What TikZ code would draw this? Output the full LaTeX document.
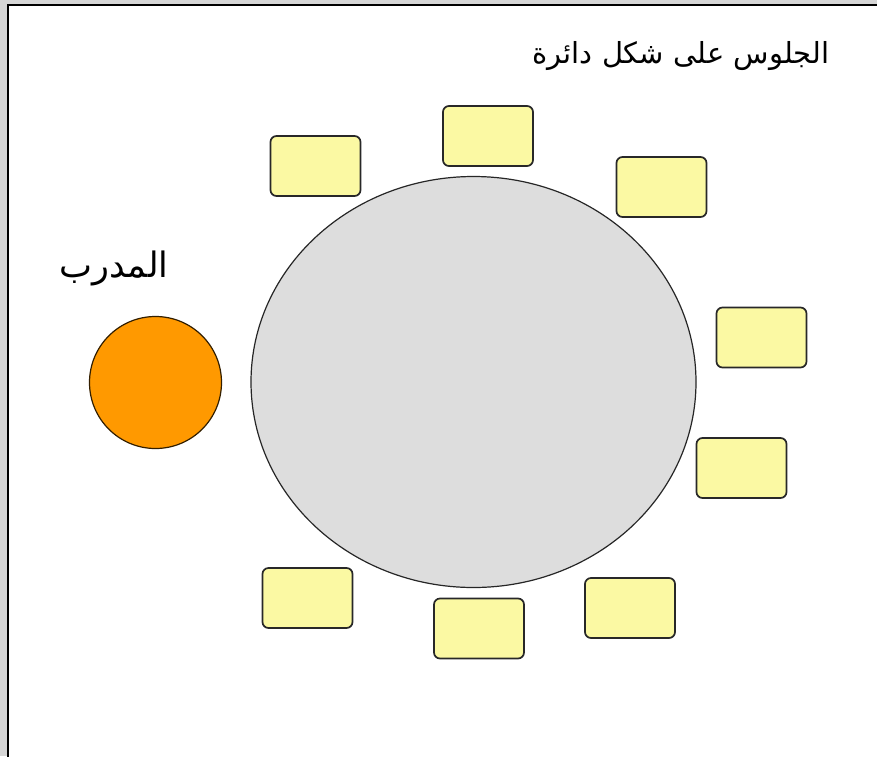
\documentclass[tikz,border=0pt]{standalone}
\usepackage{fontspec}
\usepackage{xcolor}
\usepackage{tikz}
\usetikzlibrary{shapes.geometric,positioning}
\TeXXeTstate=1
\newfontfamily\arabicfont[Script=Arabic]{DejaVu Sans}
\definecolor{seatFill}{RGB}{251,249,163}
\definecolor{tableFill}{RGB}{221,221,221}
\definecolor{trainerFill}{RGB}{255,153,0}
\definecolor{pageGray}{RGB}{214,214,214}
\definecolor{seatLine}{RGB}{40,40,40}
\tikzset{
  seatbox/.style={rectangle, draw=seatLine, fill=seatFill, line width=1.7pt,
    rounded corners=6pt, minimum width=90pt, minimum height=60pt, inner sep=0pt},
  roundtable/.style={ellipse, draw=black!85, fill=tableFill, line width=1.2pt,
    minimum width=445pt, minimum height=411pt, inner sep=0pt},
  trainer/.style={circle, draw=black!80!trainerFill, fill=trainerFill, line width=1.2pt,
    minimum size=132pt, inner sep=0pt},
  arlabel/.style={font=\arabicfont\fontsize{29}{34}\selectfont, text=black, inner sep=0pt},
}
\begin{document}
\begin{tikzpicture}[x=1pt,y=-1pt]
  \useasboundingbox (0,0) rectangle (877,756);
  \fill[pageGray] (0,0) rectangle (877,756);
  \draw[fill=white, line width=2pt] (8,5) rectangle (890,770);

  \node[arlabel] (title) at (681,56) {\beginR الجلوس على شكل دائرة\endR};

  \node[roundtable] (table) at (473.5,382) {};

  \node[trainer] (coach) at (155.5,382.5) {};
  \node[arlabel, font=\arabicfont\fontsize{35}{40}\selectfont] (coachlabel) at (114,268) {\beginR المدرب\endR};

  \node[seatbox] (s1) at (315.5,166) {};
  \node[seatbox] (s2) at (488,136) {};
  \node[seatbox] (s3) at (661.5,187) {};
  \node[seatbox] (s4) at (761.5,337.5) {};
  \node[seatbox] (s5) at (741.5,468) {};
  \node[seatbox] (s6) at (630,608) {};
  \node[seatbox] (s7) at (479,628.5) {};
  \node[seatbox] (s8) at (307.5,598) {};
\end{tikzpicture}
\end{document}
